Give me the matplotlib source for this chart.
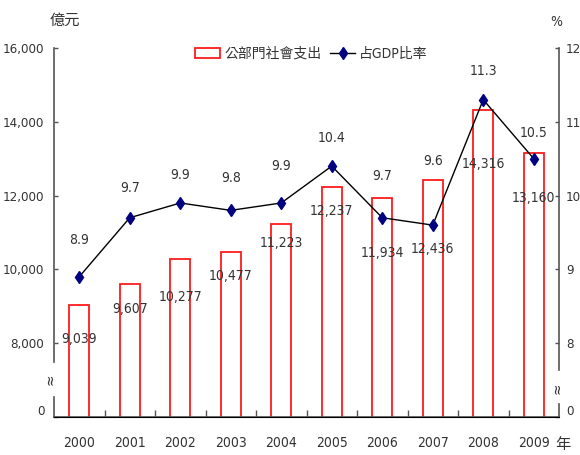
import numpy as np
import matplotlib
matplotlib.use("Agg")
import matplotlib.pyplot as plt
from matplotlib.transforms import ScaledTranslation
from matplotlib.patches import Patch
from matplotlib.lines import Line2D

plt.rcParams["font.family"] = ["DejaVu Sans", "Noto Sans CJK TC"]
plt.rcParams["font.stretch"] = "condensed"

# ---------------------------------------------------------------- data
years = ["2000", "2001", "2002", "2003", "2004",
         "2005", "2006", "2007", "2008", "2009"]
spending = [9039, 9607, 10277, 10477, 11223, 12237, 11934, 12436, 14316, 13160]
gdp_ratio = [8.9, 9.7, 9.9, 9.8, 9.9, 10.4, 9.7, 9.6, 11.3, 10.5]

left_ticks = [6000, 8000, 10000, 12000, 14000, 16000]
left_labels = ["0", "8,000", "10,000", "12,000", "14,000", "16,000"]
right_ticks = [7, 8, 9, 10, 11, 12]
right_labels = ["0", "8", "9", "10", "11", "12"]

# label placement (pixels relative to the mark), layout only
bar_label_drop = [34, 25, 38, 24, 19, 24, 55, 69, 54, 45]
pct_label_rise = [37, 30, 28, 32, 37, 28, 42, 64, 29, 26]

TEXT = "#333333"
SPINE = "#555555"
PX = 0.72  # points per pixel at dpi=100
FS = 10

fig = plt.figure(figsize=(5.8, 4.55), dpi=100)
ax = fig.add_axes([54 / 580, 1 - 417 / 455, 505 / 580, 369 / 455])
ax2 = ax.twinx()

x = np.arange(len(years))
ax.bar(x, spending, width=0.4, bottom=0, facecolor="white",
       edgecolor="#ff1a1a", linewidth=1.3, zorder=2)
ax.set_xlim(-0.5, len(years) - 0.5)
ax.set_ylim(6000, 16000)

for xi, v, d in zip(x, spending, bar_label_drop):
    ax.annotate(f"{v:,}", (xi, v), xytext=(0, -d * PX), textcoords="offset points",
                ha="center", va="center", fontsize=FS, color=TEXT, zorder=3)

ax2.plot(x, gdp_ratio, color="black", linewidth=1.0, marker="d",
         markersize=6.5, markerfacecolor="#000080", markeredgecolor="#000080", zorder=4)
ax2.set_ylim(7, 12)
for xi, v, r in zip(x, gdp_ratio, pct_label_rise):
    ax2.annotate(f"{v:.1f}", (xi, v), xytext=(0, r * PX), textcoords="offset points",
                 ha="center", va="center", fontsize=FS, color=TEXT)

# axes styling
for a in (ax, ax2):
    for s in ("top", "left", "right"):
        a.spines[s].set_visible(False)
ax.spines["bottom"].set_color(SPINE)
ax.spines["bottom"].set_linewidth(1.2)

ax.set_xticks(x)
ax.set_xticklabels(years, fontsize=FS, color=TEXT)
ax.tick_params(axis="x", which="major", length=0, pad=14)
ax.set_xticks(x[:-1] + 0.5, minor=True)
ax.tick_params(axis="x", which="minor", direction="in", length=5, width=1, color=SPINE)

ax.set_yticks(left_ticks)
ax.set_yticklabels(left_labels, fontsize=9.5, color=TEXT)
ax.tick_params(axis="y", direction="in", length=3, width=1, color=SPINE, pad=7)
ax2.set_yticks(right_ticks)
ax2.set_yticklabels(right_labels, fontsize=9.5, color=TEXT)
ax2.tick_params(axis="y", direction="in", length=3, width=1, color=SPINE, pad=5)

# nudge the "0" labels up a little
shift = ScaledTranslation(0, 7 / 100, fig.dpi_scale_trans)
for lab in (ax.get_yticklabels()[0], ax2.get_yticklabels()[0]):
    lab.set_transform(lab.get_transform() + shift)

# broken vertical axes
kw = dict(transform=ax.transAxes, color=SPINE, linewidth=1.2, clip_on=False, zorder=5)
ax.plot([0, 0], [1, 55 / 369], **kw)
ax.plot([0, 0], [20 / 369, 0], **kw)
ax.plot([1, 1], [1, 47 / 369], **kw)
ax.plot([1, 1], [13 / 369, 0], **kw)
ax.text(-4 / 505, 38 / 369, "≈", transform=ax.transAxes, rotation=90,
        ha="center", va="center", fontsize=11, color=TEXT)
ax.text(1 - 2 / 505, 29 / 369, "≈", transform=ax.transAxes, rotation=90,
        ha="center", va="center", fontsize=11, color=TEXT)

# unit labels
fig.text(65 / 580, 1 - 20 / 455, "億元", ha="center", va="center", fontsize=11, color=TEXT)
fig.text(556 / 580, 1 - 22 / 455, "%", ha="center", va="center", fontsize=FS, color=TEXT)
fig.text(563 / 580, 1 - 445 / 455, "年", ha="center", va="center", fontsize=11, color=TEXT)

handles = [Patch(facecolor="white", edgecolor="#ff1a1a", linewidth=1.3),
           Line2D([], [], color="black", linewidth=1.0, marker="d", markersize=6,
                  markerfacecolor="#000080", markeredgecolor="#000080")]
ax2.legend(handles, ["公部門社會支出", "占GDP比率"], loc="center",
           bbox_to_anchor=(0.51, 0.985), ncol=2, frameon=False, fontsize=10,
           handlelength=1.8, handleheight=0.7, handletextpad=0.3, columnspacing=0.6,
           labelcolor=TEXT)

fig.savefig("out.png", dpi=100)
